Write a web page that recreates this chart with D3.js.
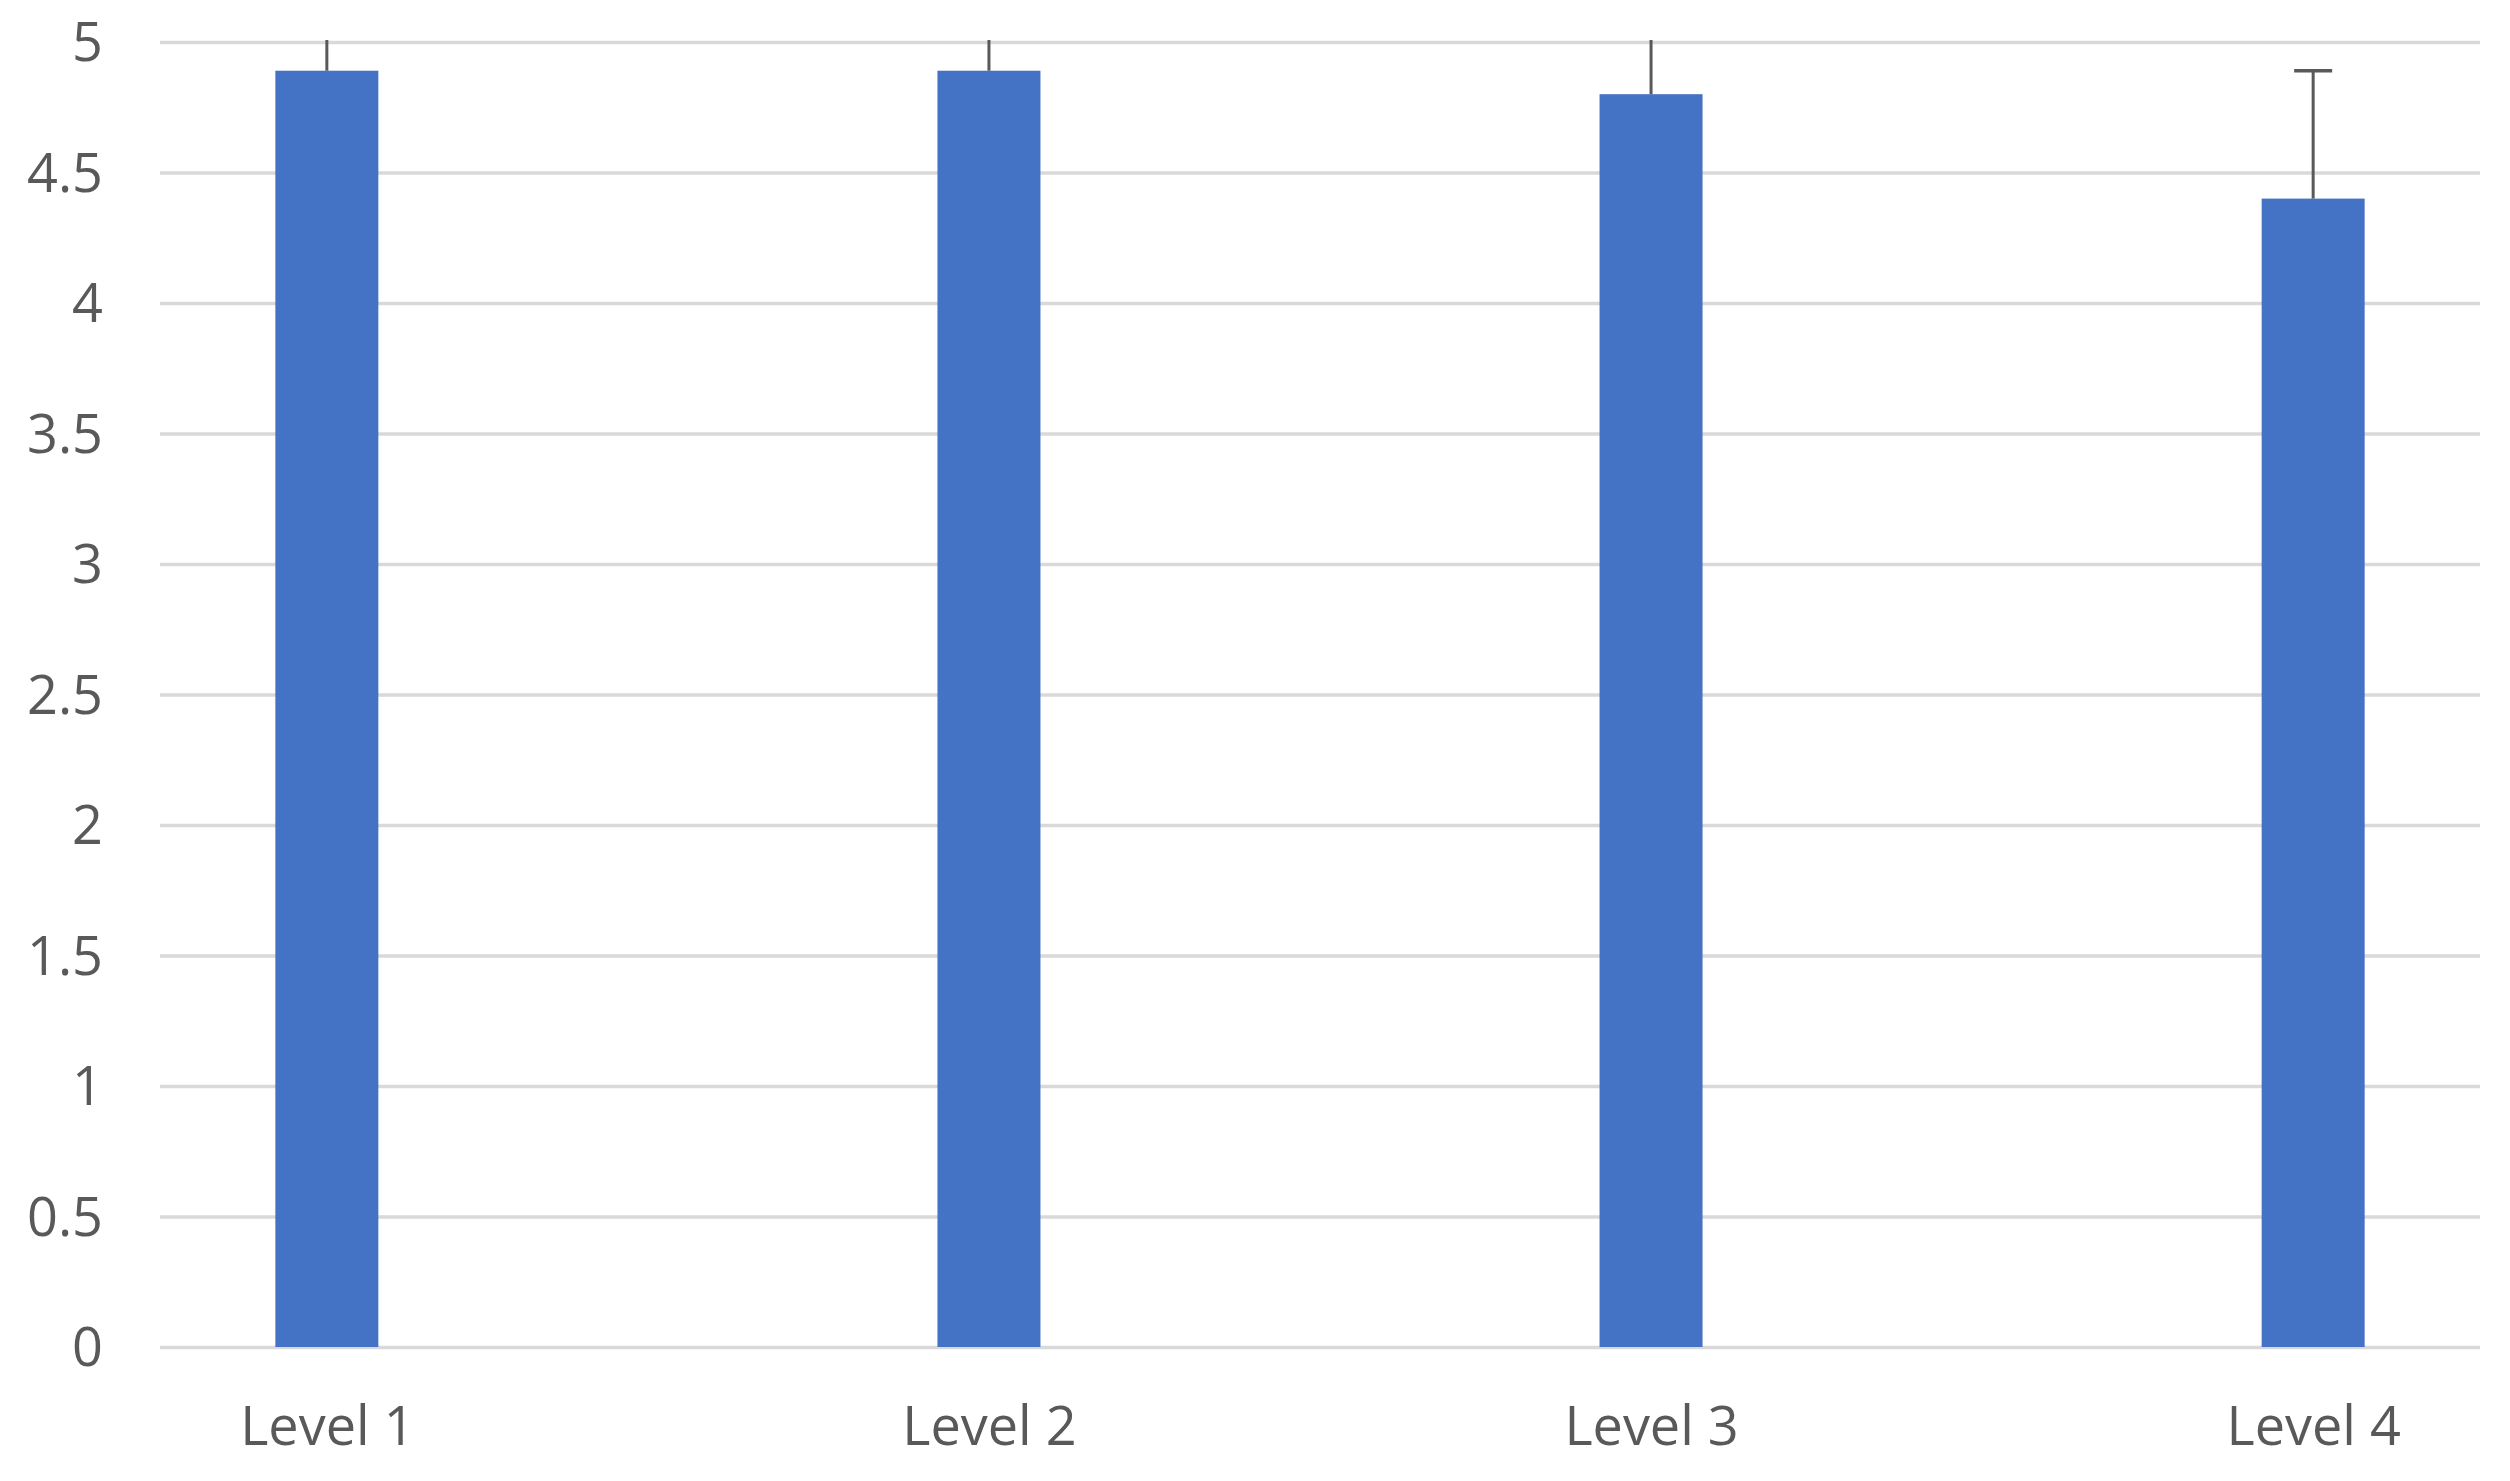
<!DOCTYPE html>
<html>
<head>
<meta charset="utf-8">
<script src="https://cdn.jsdelivr.net/npm/d3@7"></script>
<style>
  body { margin: 0; background: #fff; }
  text { font-family: "Open Sans", "Noto Sans", sans-serif; fill: #595959; }
</style>
</head>
<body>
<div id="chart"></div>
<script>
// Width and height
var width  = 2510;
var height = 1481;

// data
var categories = ["Level 1", "Level 2", "Level 3", "Level 4"];
var means      = [4.89, 4.89, 4.8, 4.4];
var errors     = [0.3, 0.3, 0.35, 0.49];
var yTicks     = [0, 0.5, 1, 1.5, 2, 2.5, 3, 3.5, 4, 4.5, 5];

var margin = {top: 42, right: 30, bottom: 134, left: 160};

var x = d3.scalePoint()
    .domain(categories)
    .range([margin.left, width - margin.right])
    .padding(0.252);

var y = d3.scaleLinear()
    .domain([0, 5])
    .range([height - margin.bottom, margin.top]);

var barWidth = 103;

var svg = d3.select("#chart")
    .append("svg")
    .attr("width", width)
    .attr("height", height);

svg.append("clipPath")
    .attr("id", "plotClip")
    .append("rect")
    .attr("x", margin.left)
    .attr("y", y(5) - 2)
    .attr("width", width - margin.left - margin.right)
    .attr("height", y(0) - y(5) + 4);

// gridlines
var yAxis = d3.axisLeft(y)
    .tickValues(yTicks)
    .tickSize(-(width - margin.left - margin.right))
    .tickPadding(57)
    .tickFormat(d3.format("~g"));

var gy = svg.append("g")
    .attr("transform", "translate(" + margin.left + ",0)")
    .call(yAxis);
gy.select(".domain").remove();
gy.selectAll("line")
    .attr("stroke", "#d9d9d9")
    .attr("stroke-width", 3.5);
gy.selectAll("text")
    .style("font-size", "54px")
    .attr("dy", "0.35em");

// bars
svg.append("g")
    .selectAll("rect")
    .data(means)
    .enter()
    .append("rect")
    .attr("x", function(d, i){ return x(categories[i]) - barWidth / 2; })
    .attr("y", function(d){ return y(d); })
    .attr("width", barWidth)
    .attr("height", function(d){ return y(0) - y(d); })
    .attr("fill", "#4472C4");

// error bars (plus side only, clipped at the axis max)
var err = svg.append("g")
    .attr("clip-path", "url(#plotClip)");

err.selectAll("line.stem")
    .data(means)
    .enter()
    .append("line")
    .attr("class", "stem")
    .attr("x1", function(d, i){ return x(categories[i]); })
    .attr("x2", function(d, i){ return x(categories[i]); })
    .attr("y1", function(d){ return y(d); })
    .attr("y2", function(d, i){ return y(d + errors[i]); })
    .attr("stroke", "#595959")
    .attr("stroke-width", 3);

err.selectAll("line.cap")
    .data(means)
    .enter()
    .append("line")
    .attr("class", "cap")
    .attr("x1", function(d, i){ return x(categories[i]) - 19; })
    .attr("x2", function(d, i){ return x(categories[i]) + 19; })
    .attr("y1", function(d, i){ return y(d + errors[i]); })
    .attr("y2", function(d, i){ return y(d + errors[i]); })
    .attr("stroke", "#595959")
    .attr("stroke-width", 3.5);

// category labels
var xAxis = d3.axisBottom(x)
    .tickSize(0)
    .tickPadding(60);

var gx = svg.append("g")
    .attr("transform", "translate(0," + y(0) + ")")
    .call(xAxis);
gx.select(".domain").remove();
gx.selectAll("text")
    .style("font-size", "54px");
</script>
</body>
</html>
